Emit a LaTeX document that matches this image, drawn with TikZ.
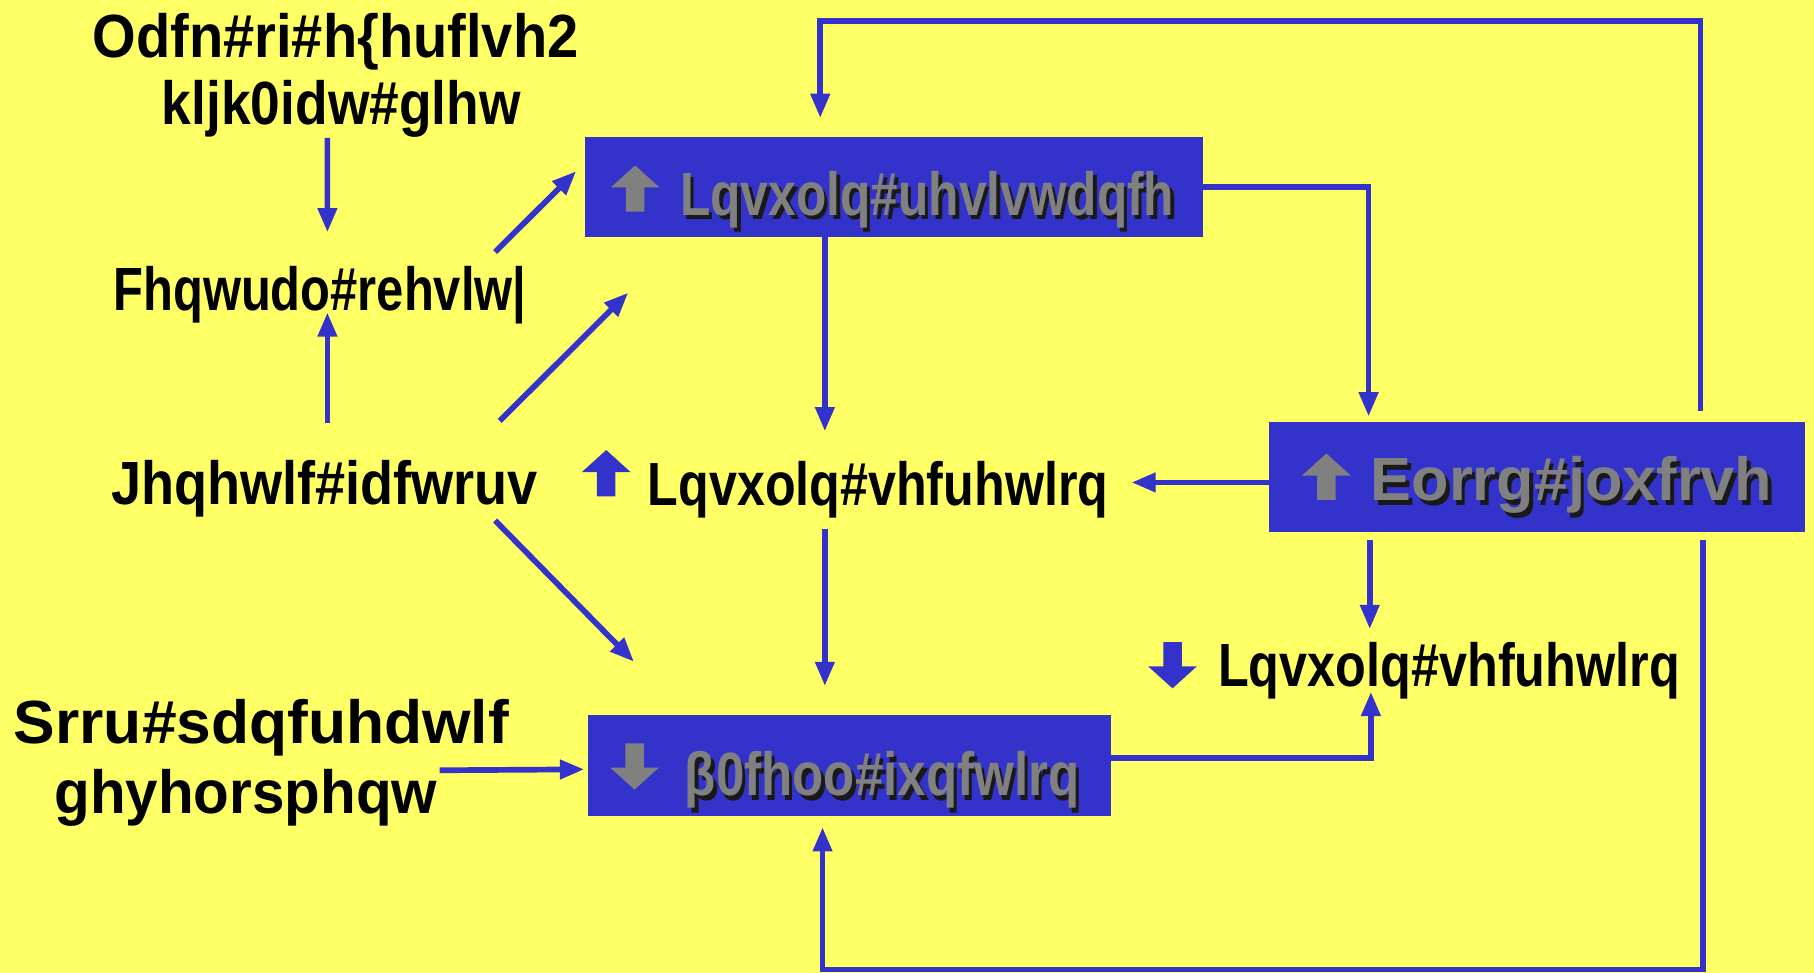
\documentclass[tikz,border=0pt]{standalone}
\usepackage{fontspec}
\setmainfont{Liberation Sans}
\usepackage{graphicx}
\usetikzlibrary{positioning,arrows.meta,calc}

\definecolor{slideyellow}{HTML}{FFFF66}
\definecolor{slideblue}{HTML}{3333CC}
\definecolor{slidegray}{HTML}{808080}

% squeeze a label to a given width, keep its height
\newcommand{\fitw}[2]{\resizebox{#1}{\height}{#2}}
% gray label with a dark drop shadow, used inside the boxes
\newcommand{\graylabel}[4]{%
	\node[txt,text=black!90] at ($(#2)+(3,4)$) {\fitw{#3}{#4}};
	\node[txt,text=slidegray] (#1) at (#2) {\fitw{#3}{#4}};}

\begin{document}
\begin{tikzpicture}[x=0.1mm,y=-0.1mm,
	every node/.style={inner sep=0,outer sep=0,font=\fontsize{15}{18}\selectfont\bfseries},
	txt/.style={anchor=base,text=black},
	box/.style={fill=slideblue,minimum width=#1,minimum height=8.7mm},
	conn/.style={draw=slideblue,line width=1.4pt,-{Triangle[length=2.1mm,width=1.6mm]}},
	blockup/.pic={\fill (0,-20) -- (21,-1) -- (8,-1) -- (8,20) -- (-8,20) -- (-8,-1) -- (-21,-1) -- cycle;}]
	% Background
	\fill[slideyellow] (0,0) rectangle (1568,841);
	\useasboundingbox (0,0) rectangle (1568,841);

	% Boxes
	\node[box=53.4mm] (resist) at (773,161.5) {};
	\node[box=46.3mm,minimum height=9.5mm] (glucose) at (1328.5,412.5) {};
	\node[box=45.2mm] (beta) at (734,661.5) {};

	% Labels on the yellow
	\node[txt] (life1) at (290,50) {\fitw{42mm}{Odfn\#ri\#h\{huflvh2}};
	\node[txt] (life2) at (295,108) {\fitw{31mm}{kljk0idw\#glhw}};
	\node[txt] (obesity) at (276.5,268) {\fitw{35.7mm}{Fhqwudo\#rehvlw|}};
	\node[txt] (genetic) at (280.5,436) {\fitw{36.9mm}{Jhqhwlf\#idfwruv}};
	\node[txt] (poor1) at (226,643) {\fitw{42.8mm}{Srru\#sdqfuhdwlf}};
	\node[txt] (poor2) at (212.5,703) {\fitw{33.1mm}{ghyhorsphqw}};
	\node[txt] (secretA) at (759,437) {\fitw{39.8mm}{Lqvxolq\#vhfuhwlrq}};
	\node[txt] (secretB) at (1252.5,593) {\fitw{39.9mm}{Lqvxolq\#vhfuhwlrq}};

	% Labels in the boxes
	\graylabel{resistlbl}{801.5,186}{42.7mm}{Lqvxolq\#uhvlvwdqfh}
	\graylabel{glucoselbl}{1358.5,433}{34.7mm}{Eorrg\#joxfrvh}
	\graylabel{betalbl}{762.5,688}{34.1mm}{β0fhoo\#ixqfwlrq}

	% Up and down marks
	\pic[color=slidegray] at (549,163) {blockup};
	\pic[color=slidegray] at (1146.5,412) {blockup};
	\pic[color=slidegray,rotate=180] at (548.5,662.5) {blockup};
	\pic[color=slideblue] at (524,409) {blockup};
	\pic[color=slideblue,rotate=180] at (1013.5,575) {blockup};

	% Connectors
	\coordinate (towardres) at (543,253);
	\draw[conn] ($(life2.south)+(-12,0)$) -- ($(obesity.north)+(6.5,-29)$);
	\draw[conn] ($(genetic.north)+(2.5,-32)$) -- ($(obesity.base)+(6.5,2)$);
	\draw[conn] ($(obesity.north east)+(-27,-12)$) -- ($(resist.west)+(-8,-13.5)$);
	\draw[conn] ($(genetic.north east)+(-33,-34)$) -- (towardres);
	\draw[conn] ($(genetic.south east)+(-37,3)$) -- ($(beta.north west)+(40,-46)$);
	\draw[conn] ($(poor2.north east)+(2,1)$) -- ($(beta.west)+(-3,3.5)$);
	\draw[conn] ($(resist.south)+(-60,0)$) -- ($(secretA.north)+(-46,-26)$);
	\draw[conn] ($(secretA.south)+(-46,9)$) -- ($(beta.north)+(-21,-25)$);
	\draw[conn] (resist.east) -| ($(glucose.north)+(-145.5,-5)$);
	\draw[conn] ($(glucose.west)+(0,4.5)$) -- ($(secretA.east |- glucose.west)+(20,4.5)$);
	\draw[conn] ($(glucose.south)+(-144.5,7)$) -- ($(secretB.north)+(-68.5,-11)$);
	\draw[conn] ($(beta.east)+(0,-6.5)$) -| ($(secretB.south)+(-67.5,-6)$);
	\draw[conn] ($(glucose.north)+(141.5,-10)$) |- ($(resist.north)+(-64,-100)$) -- ($(resist.north)+(-64,-16)$);
	\draw[conn] ($(glucose.south)+(143.5,7)$) |- ($(beta.south)+(-23,133)$) -- ($(beta.south)+(-23,10)$);
\end{tikzpicture}
\end{document}
